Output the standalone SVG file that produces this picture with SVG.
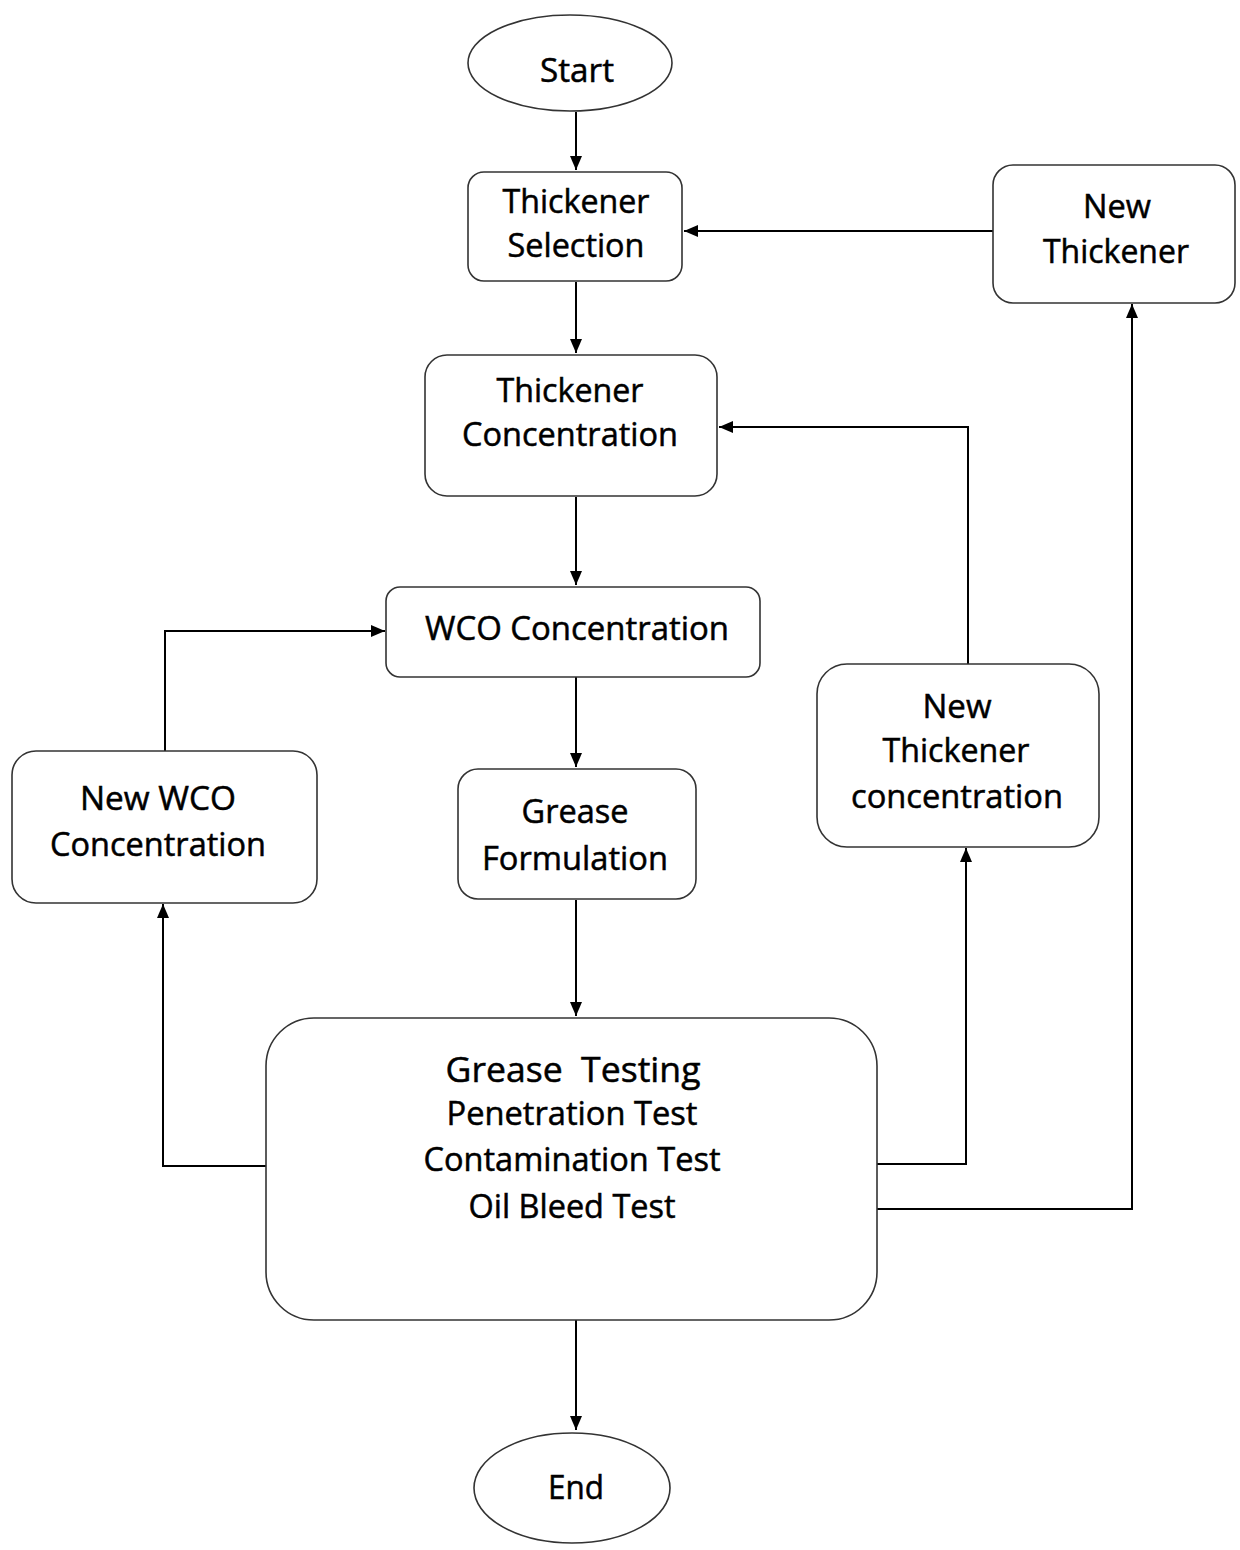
<svg xmlns="http://www.w3.org/2000/svg" width="1240" height="1550" viewBox="0 0 1240 1550">
<style>
.box{fill:#fff;stroke:#333;stroke-width:1.6}
.t{font-family:"Open Sans","Liberation Sans",sans-serif;font-size:32px;fill:#000;stroke:#000;stroke-width:0.5;text-anchor:middle}
.c{fill:none;stroke:#000;stroke-width:2}
</style>
<defs>
<marker id="ah" viewBox="0 0 14 12" refX="14" refY="6" markerWidth="14" markerHeight="12" markerUnits="userSpaceOnUse" orient="auto">
<path d="M0,0 L14,6 L0,12 Z" fill="#000"/>
</marker>
</defs>
<rect width="1240" height="1550" fill="#fff"/>
<g id="connectors">
<path class="c" d="M576,112 V170" marker-end="url(#ah)"/>
<path class="c" d="M576,282 V353" marker-end="url(#ah)"/>
<path class="c" d="M576,497 V585" marker-end="url(#ah)"/>
<path class="c" d="M576,677 V767" marker-end="url(#ah)"/>
<path class="c" d="M576,900 V1016" marker-end="url(#ah)"/>
<path class="c" d="M576,1320 V1430" marker-end="url(#ah)"/>
<path class="c" d="M993,231 H684" marker-end="url(#ah)"/>
<path class="c" d="M968,664 V427 H719" marker-end="url(#ah)"/>
<path class="c" d="M165,751 V631 H385" marker-end="url(#ah)"/>
<path class="c" d="M266,1166 H163 V904" marker-end="url(#ah)"/>
<path class="c" d="M877,1164 H966 V848" marker-end="url(#ah)"/>
<path class="c" d="M877,1209 H1132 V304" marker-end="url(#ah)"/>
</g>
<g id="start">
<ellipse class="box" cx="570" cy="63" rx="102" ry="48"/>
<text class="t" x="577" y="82" textLength="74" lengthAdjust="spacingAndGlyphs">Start</text>
</g>
<g id="thickener-selection">
<rect class="box" x="468" y="172" width="214" height="109" rx="16"/>
<text class="t" x="576" y="213" textLength="147" lengthAdjust="spacingAndGlyphs">Thickener</text>
<text class="t" x="576" y="257" textLength="137" lengthAdjust="spacingAndGlyphs">Selection</text>
</g>
<g id="thickener-concentration">
<rect class="box" x="425" y="355" width="292" height="141" rx="22"/>
<text class="t" x="570" y="402" textLength="147" lengthAdjust="spacingAndGlyphs">Thickener</text>
<text class="t" x="570" y="446" textLength="216" lengthAdjust="spacingAndGlyphs">Concentration</text>
</g>
<g id="wco-concentration">
<rect class="box" x="386" y="587" width="374" height="90" rx="14"/>
<text class="t" x="577" y="640" textLength="304" lengthAdjust="spacingAndGlyphs">WCO Concentration</text>
</g>
<g id="grease-formulation">
<rect class="box" x="458" y="769" width="238" height="130" rx="20"/>
<text class="t" x="575" y="823" textLength="107" lengthAdjust="spacingAndGlyphs">Grease</text>
<text class="t" x="575" y="870" textLength="186" lengthAdjust="spacingAndGlyphs">Formulation</text>
</g>
<g id="grease-testing">
<rect class="box" x="266" y="1018" width="611" height="302" rx="48"/>
<text class="t" x="573" y="1082" style="font-size:35px" textLength="255" lengthAdjust="spacingAndGlyphs" xml:space="preserve">Grease  Testing</text>
<text class="t" x="572" y="1125" textLength="251" lengthAdjust="spacingAndGlyphs">Penetration Test</text>
<text class="t" x="572" y="1171" textLength="297" lengthAdjust="spacingAndGlyphs">Contamination Test</text>
<text class="t" x="572" y="1218" textLength="207" lengthAdjust="spacingAndGlyphs">Oil Bleed Test</text>
</g>
<g id="end">
<ellipse class="box" cx="572" cy="1488" rx="98" ry="55"/>
<text class="t" x="576" y="1499" textLength="56" lengthAdjust="spacingAndGlyphs">End</text>
</g>
<g id="new-thickener">
<rect class="box" x="993" y="165" width="242" height="138" rx="20"/>
<text class="t" x="1117" y="218" textLength="68" lengthAdjust="spacingAndGlyphs">New</text>
<text class="t" x="1116" y="263" textLength="146" lengthAdjust="spacingAndGlyphs">Thickener</text>
</g>
<g id="new-thickener-concentration">
<rect class="box" x="817" y="664" width="282" height="183" rx="30"/>
<text class="t" x="957" y="718" textLength="69" lengthAdjust="spacingAndGlyphs">New</text>
<text class="t" x="956" y="762" textLength="147" lengthAdjust="spacingAndGlyphs">Thickener</text>
<text class="t" x="957" y="808" textLength="212" lengthAdjust="spacingAndGlyphs">concentration</text>
</g>
<g id="new-wco-concentration">
<rect class="box" x="12" y="751" width="305" height="152" rx="24"/>
<text class="t" x="158" y="810" textLength="156" lengthAdjust="spacingAndGlyphs">New WCO</text>
<text class="t" x="158" y="856" textLength="216" lengthAdjust="spacingAndGlyphs">Concentration</text>
</g>
</svg>
